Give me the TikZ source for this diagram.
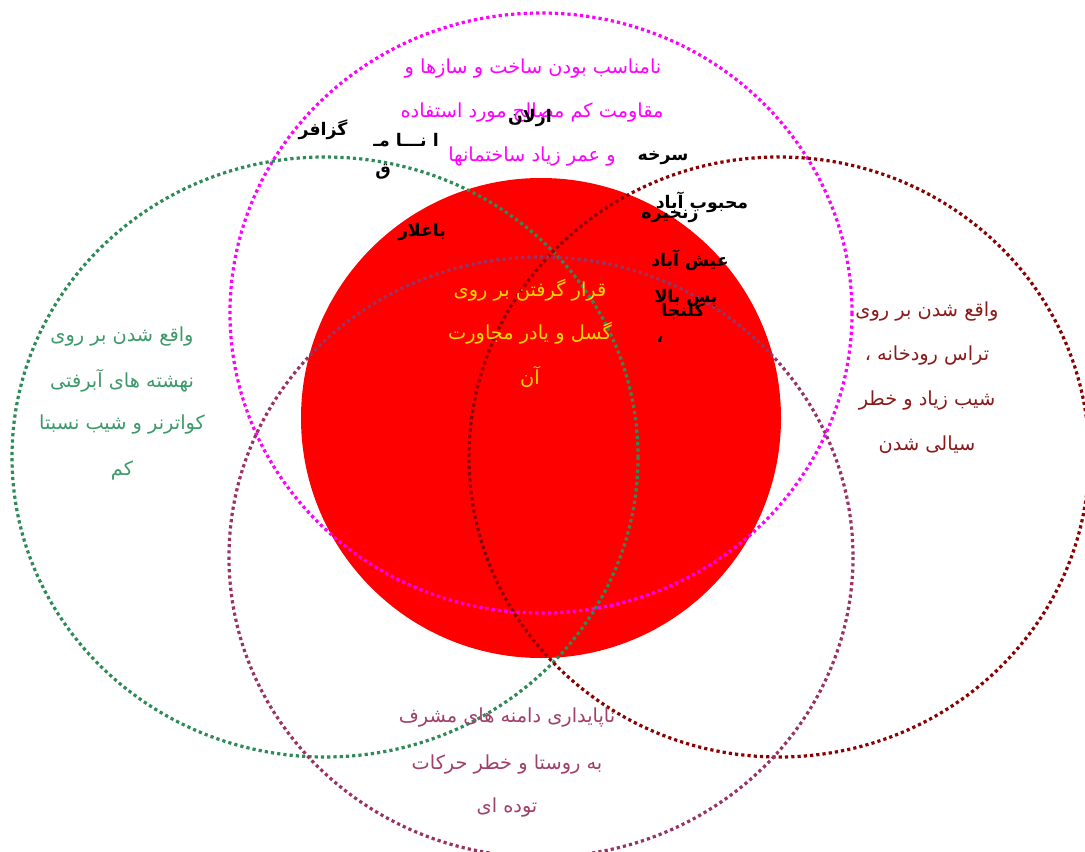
\documentclass[tikz,border=0pt]{standalone}
\usepackage{fontspec}
\newfontfamily\fa[Script=Arabic]{DejaVu Sans}
\TeXXeTstate=1
\definecolor{cMag}{HTML}{FF00FF}
\definecolor{cGreen}{HTML}{2E8B57}
\definecolor{cDRed}{HTML}{8B0000}
\definecolor{cPurp}{HTML}{993366}
\definecolor{tGreen}{HTML}{3C9A6A}
\definecolor{tDRed}{HTML}{8B1A1A}
\definecolor{tPurp}{HTML}{A0406A}
\definecolor{tYel}{HTML}{FFD700}
\tikzset{
  ring/.style={line width=2.4pt, dash pattern=on 2.4pt off 2.3pt},
  lbl/.style={inner sep=0pt, font=\fa\fontsize{14.5}{16}\selectfont},
  vil/.style={inner sep=0pt, font=\fa\bfseries\fontsize{13}{15}\selectfont, text=black},
}
\begin{document}
\begin{tikzpicture}[x=0.75pt,y=-0.75pt]
\useasboundingbox (0,0) rectangle (1085,852);
\fill[white] (0,0) rectangle (1085,852);
% red disc
\fill[red] (541,418) circle[radius=240];
% dotted ellipses
\draw[ring, cMag] (541,313) ellipse[x radius=311, y radius=300];
\draw[ring, cGreen] (325,457) ellipse[x radius=313, y radius=300];
\draw[ring, cDRed] (779,457) ellipse[x radius=310, y radius=300];
\draw[ring, cPurp] (541,557) ellipse[x radius=312, y radius=300];
% magenta text
\node[lbl, text=cMag] (m1) at (533,69) {\beginR نامناسب بودن ساخت و سازها و\endR};
\node[lbl, text=cMag] (m2) at (532,113) {\beginR مقاومت کم مصالح مورد استفاده\endR};
\node[lbl, text=cMag] (m3) at (532,157) {\beginR و عمر زیاد ساختمانها\endR};
% green text
\node[lbl, text=tGreen] (g1) at (122,337) {\beginR واقع شدن بر روی\endR};
\node[lbl, text=tGreen] (g2) at (122,381) {\beginR نهشته های آبرفتی\endR};
\node[lbl, text=tGreen] (g3) at (122,425) {\beginR کواترنر و شیب نسبتا\endR};
\node[lbl, text=tGreen] (g4) at (122,470) {\beginR کم\endR};
% dark red text
\node[lbl, text=tDRed] (d1) at (927,312) {\beginR واقع شدن بر روی\endR};
\node[lbl, text=tDRed] (d2) at (927,356) {\beginR تراس رودخانه ،\endR};
\node[lbl, text=tDRed] (d3) at (927,401) {\beginR شیب زیاد و خطر\endR};
\node[lbl, text=tDRed] (d4) at (927,445) {\beginR سیالی شدن\endR};
% purple text
\node[lbl, text=tPurp] (p1) at (507,718) {\beginR ناپایداری دامنه های مشرف\endR};
\node[lbl, text=tPurp] (p2) at (507,765) {\beginR به روستا و خطر حرکات\endR};
\node[lbl, text=tPurp] (p3) at (507,808) {\beginR توده ای\endR};
% yellow text
\node[lbl, text=tYel] (y1) at (530,290) {\beginR قرار گرفتن بر روی\endR};
\node[lbl, text=tYel] (y2) at (530,333) {\beginR گسل و یادر مجاورت\endR};
\node[lbl, text=tYel] (y3) at (530,377) {\beginR آن\endR};
% villages
\node[vil] (v1) at (323,130) {\beginR گزافر\endR};
\node[vil] (v2) at (406,140) {\beginR ا نـــا مـ\endR};
\node[vil] (v3) at (383,172) {\beginR ق\endR};
\node[vil] (v4) at (530,118) {\beginR ارلان\endR};
\node[vil] (v5) at (663,158) {\beginR سرخه\endR};
\node[vil] (v6) at (702,202) {\beginR محبوب آباد\endR};
\node[vil] (v7) at (670,216) {\beginR زنجیره\endR};
\node[vil] (v8) at (422,232) {\beginR باغلار\endR};
\node[vil] (v9) at (690,260) {\beginR عیش آباد\endR};
\node[vil] (v10) at (686,298) {\beginR پس بالا\endR};
\node[vil] (v11) at (683,311) {\beginR کلنجا\endR};
\node[vil] (v12) at (660,340) {\beginR ،\endR};
\end{tikzpicture}
\end{document}
